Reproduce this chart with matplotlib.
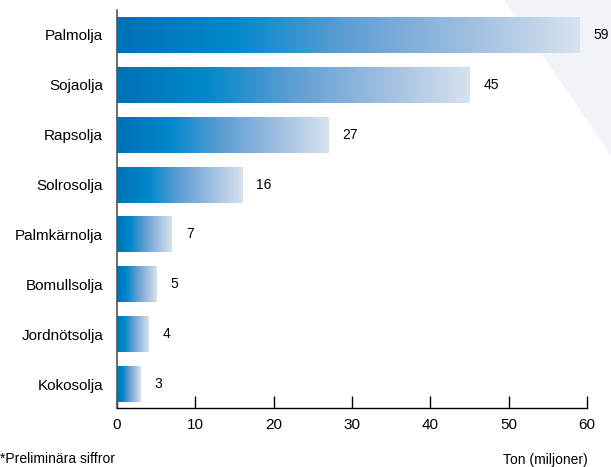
import matplotlib.pyplot as plt
import numpy as np
from matplotlib.colors import LinearSegmentedColormap
from matplotlib.patches import Polygon

plt.rcParams['font.family'] = ['Liberation Sans', 'DejaVu Sans']

# data
oils = ['Palmolja', 'Sojaolja', 'Rapsolja', 'Solrosolja', 'Palmkärnolja',
        'Bomullsolja', 'Jordnötsolja', 'Kokosolja']
volumes = [59, 45, 27, 16, 7, 5, 4, 3]
x_ticks = [0, 10, 20, 30, 40, 50, 60]

# gradient used inside every bar (left -> right)
bar_cmap = LinearSegmentedColormap.from_list(
    'oilbar', [(0.0, '#0070b8'), (0.25, '#0088cc'), (0.5, '#5f9ed4'),
               (0.75, '#9dbde0'), (1.0, '#d6e2ef')])

fig = plt.figure(figsize=(6.11, 4.67), dpi=100)
W, H = 611, 467

# light background wedge top right
fig.patches.append(Polygon([(504 / W, 1), (1, 1 - 155 / H), (1, 1)], closed=True,
                           transform=fig.transFigure, facecolor='#f0f3f8',
                           edgecolor='none', zorder=0))

ax = fig.add_axes([117 / W, 1 - 408 / H, (587 - 117) / W, (408 - 10) / H])
ax.set_zorder(2)
ax.patch.set_alpha(0)

bar_h = 0.72
grad = np.linspace(0, 1, 256).reshape(1, -1)
for i, v in enumerate(volumes):
    ax.imshow(grad, cmap=bar_cmap, aspect='auto', interpolation='bilinear',
              extent=(0, v, i + bar_h / 2, i - bar_h / 2), zorder=2)
    ax.text(v + 1.8, i, str(v), va='center', ha='left', fontsize=10,
            clip_on=False)

ax.set_xlim(0, 60)
ax.set_ylim(7.48, -0.5)
ax.set_yticks(range(len(oils)))
ax.set_yticklabels(oils, fontsize=11)
ax.set_xticks(x_ticks)
ax.set_xticklabels([str(t) for t in x_ticks], fontsize=11)
ax.tick_params(axis='y', length=0, pad=10)
ax.tick_params(axis='x', direction='in', length=9, width=1, pad=7)

for s in ['top', 'right']:
    ax.spines[s].set_visible(False)
ax.spines['left'].set_color('#555555')
ax.spines['left'].set_linewidth(1.2)
ax.spines['bottom'].set_linewidth(1)

fig.text(588 / W, 1 - 460 / H, 'Ton (miljoner)', ha='right', va='center', fontsize=10)
fig.text(0, 1 / H, '*Preliminära siffror', ha='left', va='bottom', fontsize=10)

plt.savefig('out.png', dpi=100)
